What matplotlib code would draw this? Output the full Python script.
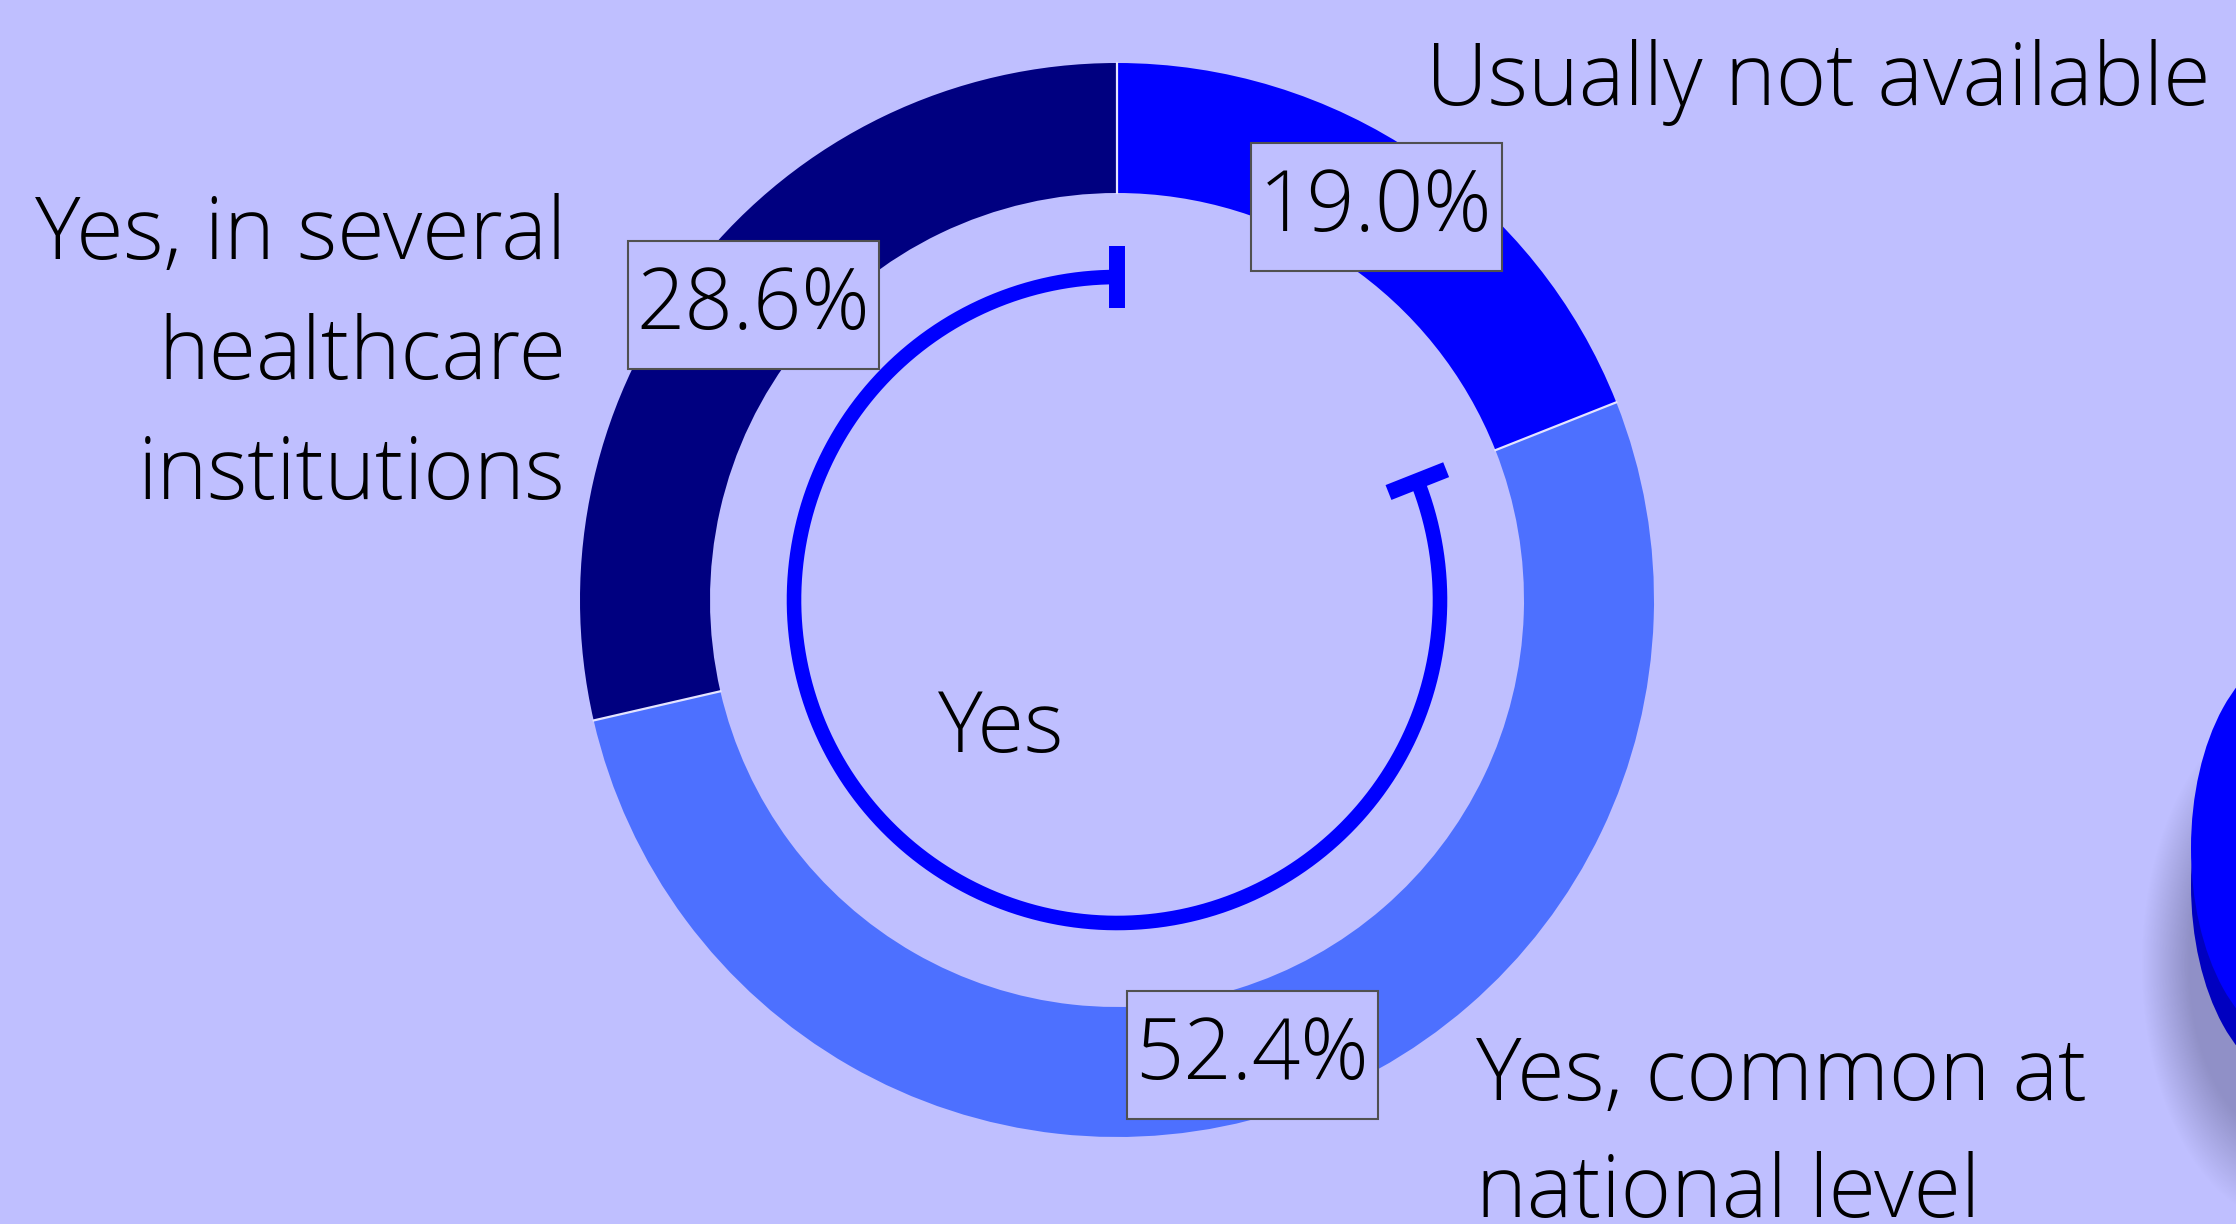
import numpy as np
import matplotlib
matplotlib.use("Agg")
import matplotlib.pyplot as plt
from matplotlib.patches import Ellipse, Rectangle

# ---- data ----
categories = ["Usually not available",
              "Yes, common at\nnational level",
              "Yes, in several\nhealthcare\ninstitutions"]
values = [19.0, 52.4, 28.6]
pct_labels = ["19.0%", "52.4%", "28.6%"]
colors = ["#0000FF", "#4D70FF", "#000080"]
group_label = "Yes"
group_members = [1, 2]  # indices of categories grouped under "Yes"

W, H = 2236, 1224
BG = "#BFBFFF"
plt.rcParams['font.family'] = ['Open Sans', 'DejaVu Sans']

fig = plt.figure(figsize=(W / 100, H / 100), dpi=100, facecolor=BG)
ax = fig.add_axes([0, 0, 1, 1])
ax.set_facecolor(BG)

def Y(y):  # image-row to axis y
    return H - y

cx, cy = 1117, Y(600)
R_out, R_in = 537, 407

ax.pie(values, center=(cx, cy), radius=R_out, startangle=90, counterclock=False,
       colors=colors, wedgeprops=dict(width=R_out - R_in, linewidth=0))
ax.set_xlim(0, W)
ax.set_ylim(0, H)
ax.set_aspect('equal')
ax.axis('off')

# thin light separators between slices
total = sum(values)
cum = np.cumsum([0] + values)
for c in cum[:-1]:
    t = np.radians(90 - 360 * c / total)
    rr = np.array([R_in, R_out])
    ax.plot(cx + rr * np.cos(t), cy + rr * np.sin(t), color="#E4E4FF", lw=1.6, zorder=2)

# inner arc spanning the "Yes" group
span = 360 * sum(values[i] for i in group_members) / total
a_start = 90.0
a_end = 90.0 + span
r_arc = 323
th = np.radians(np.linspace(a_start, a_end, 400))
ax.plot(cx + r_arc * np.cos(th), cy + r_arc * np.sin(th), color="#0000FF",
        lw=10.5, solid_capstyle='butt', zorder=3)
for a in (a_start, a_end):
    t = np.radians(a)
    rr = np.array([r_arc - 31, r_arc + 31])
    ax.plot(cx + rr * np.cos(t), cy + rr * np.sin(t), color="#0000FF",
            lw=11.5, solid_capstyle='butt', zorder=3)

ax.text(1001, Y(730), group_label, fontsize=61, fontweight='light',
        ha='center', va='center', color='black')

# category labels
fs = 62
ax.text(1426, Y(83), categories[0], fontsize=fs, fontweight='light',
        ha='left', va='center', color='black')
ax.text(566, Y(356), categories[2], fontsize=fs, fontweight='light',
        ha='right', va='center', color='black', linespacing=1.5, multialignment='right')
ax.text(1476, Y(1136), categories[1], fontsize=fs, fontweight='light',
        ha='left', va='center', color='black', linespacing=1.45)

# percentage boxes
box_pos = [(1376, 207), (1252, 1055), (753, 305)]
bw, bh = 251, 128
for lab, (bx, by) in zip(pct_labels, box_pos):
    ax.add_patch(Rectangle((bx - bw / 2, Y(by) - bh / 2), bw, bh, facecolor=BG,
                           edgecolor='#505050', linewidth=1.5, zorder=4))
    ax.text(bx, Y(by) - 2, lab, fontsize=61, fontweight='light', ha='center', va='center',
            color='black', zorder=5)

# partial 3D pie element at right edge (cut off), with soft shadow
xs = np.linspace(1950, W, 300)
ys = np.linspace(500, H, 700)
XX, YY = np.meshgrid(xs, ys)
d = np.sqrt(((XX - 2290) / 135.0) ** 2 + ((YY - 965) / 235.0) ** 2)
alpha = 0.42 * np.clip((1.1 - d) / 0.35, 0, 1)
img = np.zeros(XX.shape + (4,))
img[..., 0] = 0.32
img[..., 1] = 0.32
img[..., 2] = 0.48
img[..., 3] = alpha
ax.imshow(img, extent=(xs[0], xs[-1], Y(ys[-1]), Y(ys[0])), origin='upper',
          interpolation='bilinear', zorder=2, aspect='auto')
ax.add_patch(Ellipse((2300, Y(885)), 218, 396, facecolor="#0000C0", edgecolor='none', zorder=3))
ax.add_patch(Ellipse((2300, Y(848)), 218, 396, facecolor="#0000FF", edgecolor='none', zorder=3))
ax.set_xlim(0, W)
ax.set_ylim(0, H)

fig.savefig("out.png", dpi=100, facecolor=BG)
